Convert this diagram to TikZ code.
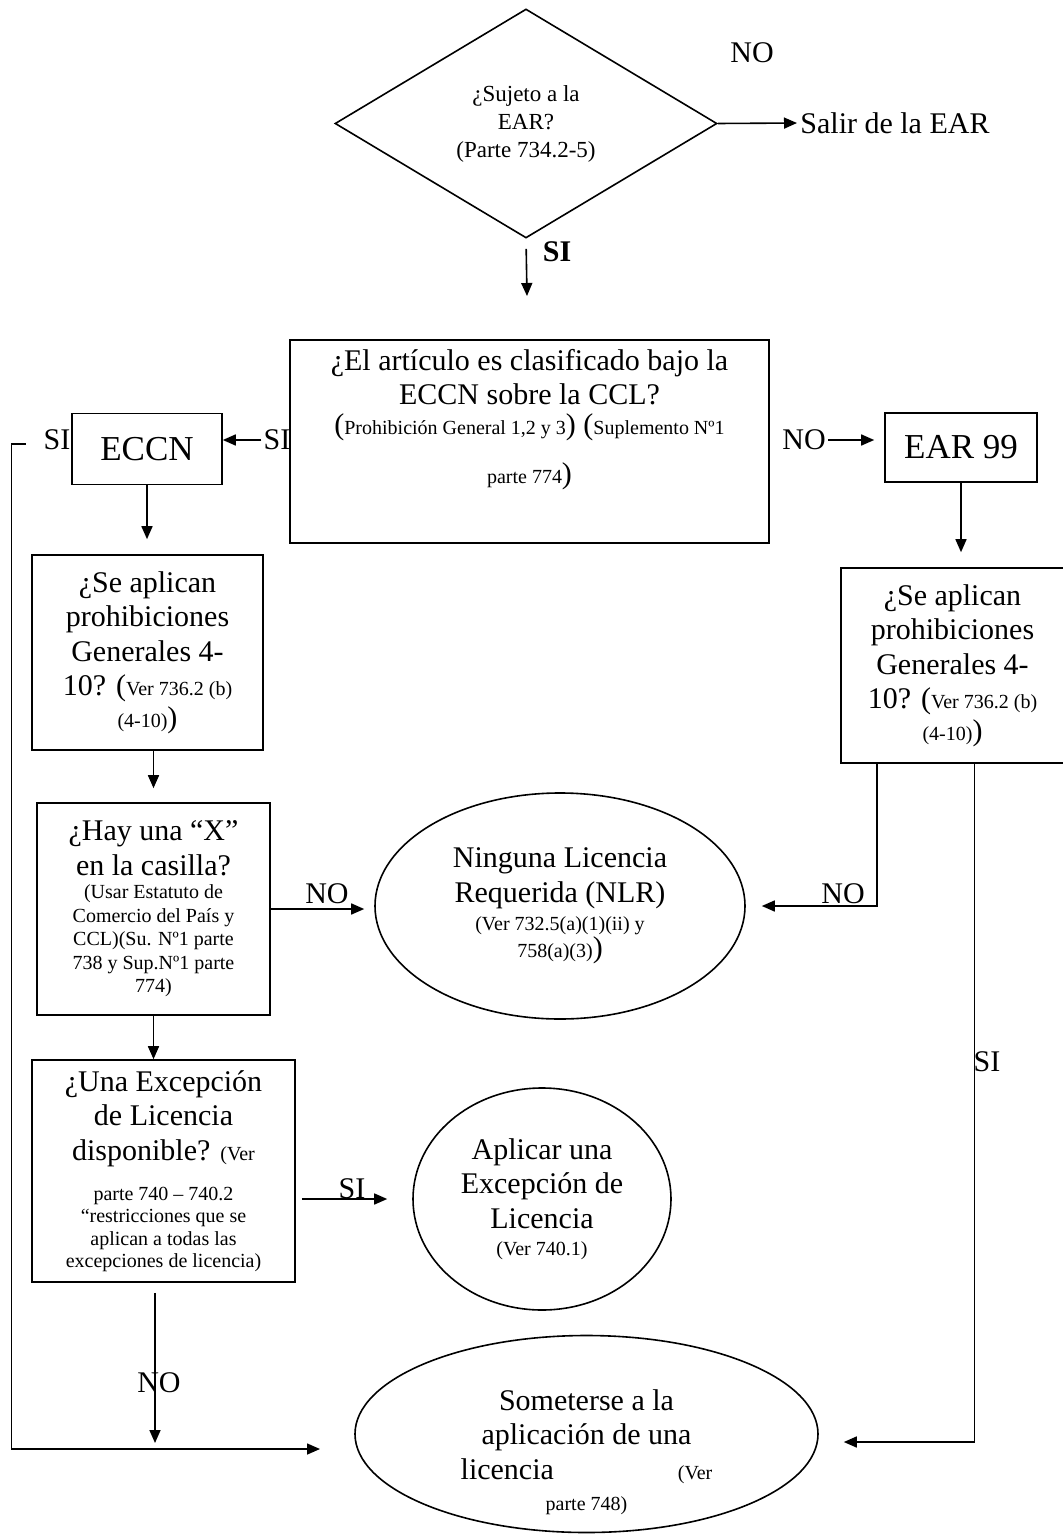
\documentclass[tikz,border=0pt]{standalone}
\usepackage{fontspec}
\setmainfont{Liberation Serif}
\usetikzlibrary{positioning, arrows.meta, shapes.geometric}

\newcommand{\szL}{\fontsize{15}{17.25}\selectfont}
\newcommand{\szXL}{\fontsize{17.5}{20}\selectfont}
\newcommand{\szM}{\fontsize{11.5}{14}\selectfont}
\newcommand{\szS}{\fontsize{10}{11.5}\selectfont}

\begin{document}
\begin{tikzpicture}[
    x=0.5pt, y=-0.5pt,
    every node/.style={align=center, inner sep=0pt, font=\szL},
    box/.style={rectangle, draw, line width=0.8pt},
    oval/.style={ellipse, draw, line width=0.8pt},
    question/.style={diamond, draw, line width=0.8pt, aspect=1.67, font=\szM},
    lbl/.style={inner sep=1pt},
    arrow/.style={-{Triangle[length=6.5pt, width=5.5pt]}, line width=0.8pt}
]
\useasboundingbox (0,0) rectangle (1062,1535);

% top decision
\node (dec) [question, minimum width=191pt, minimum height=114.5pt] at (526,123.5) {¿Sujeto a la\\ EAR?\\ (Parte 734.2-5)};
\node (exit) [anchor=west] at (800,123) {Salir de la EAR};
\node (noTop) [lbl] at (752,53) {NO};
\node (siTop) [lbl, font=\szL\bfseries] at (557,252) {SI};
\coordinate (decEnd) at (527,296);

% classification
\node (ccl) [box, minimum width=239.5pt, minimum height=101.5pt] at (529.5,441.5) {¿El artículo es clasificado bajo la\\
    ECCN sobre la CCL?\\[-2.5pt]
    ({\szS Prohibición General 1,2 y 3}) ({\szS Suplemento Nº1}\\[7.5pt]
    {\szS parte 774})\\[8pt]
    \mbox{}};
\node (eccn) [box, font=\szXL, minimum width=75pt, minimum height=35.5pt] at (147,449) {ECCN};
\node (ear) [box, font=\szXL, minimum width=76pt, minimum height=34.5pt] at (961,447.5) {EAR 99};
\node (siEccn) [lbl] at (277,440) {SI};
\node (siLeft) [lbl] at (57,440) {SI};
\node (noEar) [lbl] at (804,440) {NO};

% prohibiciones 4-10
\node (lbox) [box, minimum width=115.5pt, minimum height=97.5pt] at (147.5,652.5) {¿Se aplican\\ prohibiciones\\ Generales 4-\\
    10? ({\szS Ver 736.2 (b)}\\[-1.5pt] {\szS (4-10)})};
\node (rbox) [box, minimum width=111.5pt, minimum height=97.5pt] at (952.5,665.5) {¿Se aplican\\ prohibiciones\\ Generales 4-\\
    10? ({\szS Ver 736.2 (b)}\\[-1.5pt] {\szS (4-10)})};

% casilla
\node (hay) [box, minimum width=116.5pt, minimum height=106pt] at (153.5,909) {¿Hay una “X”\\ en la casilla?\\[-5.5pt]
    {\szS (Usar Estatuto de}\\[-5.5pt] {\szS Comercio del País y}\\[-5.5pt]
    {\szS CCL)(Su. Nº1 parte}\\[-5.5pt] {\szS 738 y Sup.Nº1 parte}\\[-5.5pt] {\szS 774)}};
\node (nlr) [oval, minimum width=185pt, minimum height=113pt] at (560,906) {Ninguna Licencia\\ Requerida (NLR)\\[-3.25pt]
    {\szS (Ver 732.5(a)(1)(ii) y}\\[-3.75pt] {\szS 758(a)(3)})};
\node (noHay) [lbl, anchor=south] at (327,906) {NO};
\node (noRight) [lbl, anchor=south] at (843,906) {NO};

% excepcion
\node (exc) [box, minimum width=131.5pt, minimum height=111pt] at (163.5,1171) {¿Una Excepción\\ de Licencia\\ disponible? {\szS (Ver}\\[2.75pt]
    {\szS parte 740 – 740.2}\\[-6pt] {\szS “restricciones que se}\\[-6pt]
    {\szS aplican a todas las}\\[-6pt] {\szS excepciones de licencia)}};
\node (apl) [oval, minimum width=129pt, minimum height=111pt] at (542,1199) {Aplicar una\\ Excepción de\\ Licencia\\[-3.75pt] {\szS (Ver 740.1)}};
\node (siExc) [lbl, anchor=south] at (352,1201) {SI};
\node (siRight) [lbl] at (987,1062) {SI};

% licencia
\node (sub) [oval, minimum width=231.5pt, minimum height=98.5pt, inner ysep=-6pt, text height=76pt, text depth=0pt] at (586.5,1434) {Someterse a la\\ aplicación de una\\
    licencia\hspace{62pt}{\szS (Ver}\\[-1.75pt] {\szS parte 748)}};
\node (noExc) [lbl] at (159,1383) {NO};
\coordinate (noEnd) at (155,1443);
\coordinate (subIn) at (320,1449);

\draw [arrow, shorten >=1.5pt] (dec.east) -- (exit.west);
\draw [arrow, shorten <=5pt] (dec.south) -- (decEnd);
\draw [arrow] (siEccn.west) -- (siEccn.west -| eccn.east);
\draw [arrow, shorten >=5pt] (noEar.east) -- (noEar.east -| ear.west);
\draw [arrow] ([xshift=-7.8pt,yshift=-2pt]siLeft.west) -- ++(-7pt,0) |- (subIn);
\draw [arrow, shorten >=7.5pt] (eccn.south) -- (eccn.south |- lbox.north);
\draw [arrow, shorten >=7.5pt] (ear.south) -- (ear.south |- rbox.north);
\draw [arrow, shorten >=7pt] (lbox.south -| hay.north) -- (hay.north);
\draw [arrow, shorten >=5pt] (hay.east) -- (hay.east -| nlr.west);
\draw [arrow, shorten >=8pt] ([xshift=-37.75pt]rbox.south) |- (nlr.east);
\draw [arrow] (hay.south) -- (hay.south |- exc.north);
\draw [arrow, shorten <=3pt, shorten >=12.5pt] (exc.east |- apl.west) -- (apl.west);
\draw [arrow, shorten <=5pt] (exc.south -| noEnd) -- (noEnd);
\draw [arrow] ([xshift=11pt]rbox.south) |- ([xshift=12.5pt,yshift=-4pt]sub.east);
\end{tikzpicture}
\end{document}
